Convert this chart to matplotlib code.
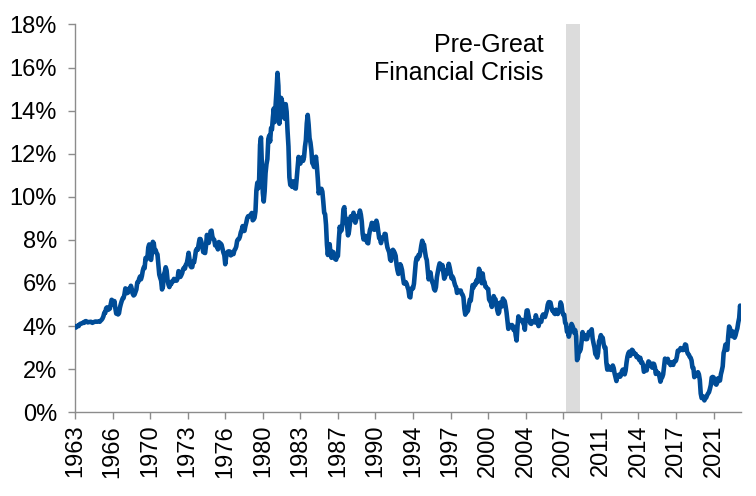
import matplotlib
matplotlib.use("Agg")
import matplotlib.pyplot as plt
import numpy as np
import pandas as pd

plt.rcParams['font.family'] = ['Liberation Sans', 'DejaVu Sans']

# 10-year yield, monthly, Apr 1963 - Nov 2023 (%)
y1960s = [3.97, 3.93, 3.99, 4.02, 4.00, 4.08, 4.11, 4.12, 4.13,
          4.17, 4.15, 4.22, 4.23, 4.20, 4.17, 4.19, 4.19, 4.20, 4.19, 4.15, 4.18,
          4.19, 4.21, 4.21, 4.20, 4.21, 4.21, 4.20, 4.25, 4.29, 4.35, 4.45, 4.62,
          4.61, 4.83, 4.87, 4.75, 4.78, 4.81, 5.02, 5.22, 5.18, 5.01, 5.16, 4.84,
          4.58, 4.63, 4.54, 4.59, 4.85, 5.02, 5.16, 5.28, 5.30, 5.48, 5.75, 5.70,
          5.53, 5.56, 5.74, 5.64, 5.87, 5.72, 5.50, 5.42, 5.46, 5.58, 5.70, 6.03,
          6.04, 6.19, 6.30, 6.17, 6.32, 6.57, 6.72, 6.69, 7.16, 7.10, 7.14, 7.65]
y1970s = [7.79, 7.24, 7.07, 7.39, 7.91, 7.84, 7.46, 7.53, 7.39, 7.33, 6.84, 6.39,
          6.24, 6.11, 5.70, 5.83, 6.39, 6.52, 6.73, 6.58, 6.14, 5.93, 5.81, 5.93,
          5.95, 6.08, 6.07, 6.19, 6.13, 6.11, 6.11, 6.21, 6.55, 6.48, 6.28, 6.36,
          6.46, 6.64, 6.71, 6.67, 6.85, 6.90, 7.13, 7.40, 7.09, 6.79, 6.73, 6.74,
          6.99, 6.96, 7.21, 7.51, 7.58, 7.54, 7.81, 8.04, 8.04, 7.90, 7.68, 7.43,
          7.50, 7.39, 7.73, 8.23, 8.06, 7.86, 8.06, 8.40, 8.43, 8.14, 8.05, 8.00,
          7.74, 7.79, 7.73, 7.56, 7.90, 7.86, 7.83, 7.77, 7.59, 7.41, 7.29, 6.87,
          7.21, 7.39, 7.46, 7.37, 7.46, 7.28, 7.33, 7.40, 7.34, 7.52, 7.58, 7.69,
          7.96, 8.03, 8.04, 8.15, 8.35, 8.46, 8.64, 8.41, 8.42, 8.64, 8.81, 9.01,
          9.10, 9.10, 9.12, 9.18, 9.25, 8.91, 8.95, 9.03, 9.33, 10.30, 10.65, 10.39]
y1980s = [10.80, 12.41, 12.75, 11.47, 10.18, 9.78, 10.25, 11.10, 11.51, 11.75, 12.68, 12.84,
          12.57, 13.19, 13.12, 13.68, 14.10, 13.47, 14.28, 14.94, 15.75, 15.15, 13.39, 13.72,
          14.59, 14.43, 13.86, 13.87, 13.62, 14.30, 13.95, 13.06, 12.34, 10.91, 10.55, 10.54,
          10.46, 10.72, 10.51, 10.40, 10.38, 10.85, 11.38, 11.85, 11.65, 11.54, 11.69, 11.83,
          11.67, 11.84, 12.32, 12.63, 13.41, 13.80, 13.36, 12.72, 12.52, 12.16, 11.57, 11.50,
          11.38, 11.51, 11.86, 11.43, 10.85, 10.16, 10.31, 10.33, 10.37, 10.24, 9.78, 9.26,
          9.19, 8.70, 7.78, 7.30, 7.71, 7.80, 7.30, 7.17, 7.45, 7.43, 7.25, 7.11,
          7.08, 7.25, 7.25, 8.02, 8.61, 8.40, 8.45, 8.76, 9.42, 9.52, 8.86, 8.99,
          8.67, 8.21, 8.37, 8.72, 9.09, 8.92, 9.06, 9.26, 8.98, 8.80, 8.96, 9.11,
          9.09, 9.17, 9.36, 9.18, 8.86, 8.28, 8.02, 8.11, 8.19, 8.01, 7.87, 7.84]
y1990s = [8.21, 8.47, 8.59, 8.79, 8.76, 8.48, 8.47, 8.75, 8.89, 8.72, 8.39, 8.08,
          8.09, 7.85, 8.11, 8.04, 8.07, 8.28, 8.27, 7.90, 7.65, 7.53, 7.42, 7.09,
          7.03, 7.34, 7.54, 7.48, 7.39, 7.26, 6.84, 6.59, 6.42, 6.59, 6.87, 6.77,
          6.60, 6.26, 5.98, 5.97, 6.04, 5.96, 5.81, 5.68, 5.36, 5.33, 5.72, 5.77,
          5.75, 5.97, 6.48, 6.97, 7.18, 7.10, 7.30, 7.24, 7.46, 7.74, 7.96, 7.81,
          7.78, 7.47, 7.20, 7.06, 6.63, 6.17, 6.28, 6.49, 6.20, 6.04, 5.93, 5.71,
          5.65, 5.81, 6.27, 6.51, 6.74, 6.91, 6.87, 6.64, 6.83, 6.53, 6.20, 6.30,
          6.58, 6.42, 6.69, 6.89, 6.71, 6.49, 6.22, 6.30, 6.21, 6.03, 5.88, 5.81,
          5.54, 5.57, 5.65, 5.64, 5.65, 5.50, 5.46, 5.34, 4.81, 4.53, 4.83, 4.65,
          4.72, 5.00, 5.23, 5.18, 5.54, 5.90, 5.79, 5.94, 5.92, 6.11, 6.03, 6.28]
y2000s = [6.66, 6.52, 6.26, 5.99, 6.44, 6.10, 6.05, 5.83, 5.80, 5.74, 5.72, 5.24,
          5.16, 5.10, 4.89, 5.14, 5.39, 5.28, 5.24, 4.97, 4.73, 4.57, 4.65, 5.09,
          5.04, 4.91, 5.28, 5.21, 5.16, 4.93, 4.65, 4.26, 3.87, 3.94, 4.05, 4.03,
          4.05, 3.90, 3.81, 3.96, 3.57, 3.33, 3.98, 4.45, 4.27, 4.29, 4.30, 4.27,
          4.15, 4.08, 3.83, 4.35, 4.72, 4.73, 4.50, 4.28, 4.13, 4.10, 4.19, 4.23,
          4.22, 4.17, 4.50, 4.34, 4.14, 4.00, 4.18, 4.26, 4.20, 4.46, 4.54, 4.47,
          4.42, 4.57, 4.72, 4.99, 5.11, 5.11, 5.09, 4.88, 4.72, 4.73, 4.60, 4.56,
          4.76, 4.72, 4.56, 4.69, 4.75, 5.10, 5.00, 4.67, 4.52, 4.53, 4.15, 4.10,
          3.74, 3.74, 3.51, 3.68, 3.88, 4.10, 4.01, 3.89, 3.69, 3.81, 3.53, 2.42,
          2.52, 2.87, 2.82, 2.93, 3.29, 3.72, 3.56, 3.59, 3.40, 3.39, 3.40, 3.59]
y2010s = [3.73, 3.69, 3.73, 3.85, 3.42, 3.20, 3.01, 2.70, 2.65, 2.54, 2.76, 3.29,
          3.39, 3.58, 3.41, 3.46, 3.17, 3.00, 3.00, 2.30, 1.98, 2.15, 2.01, 1.98,
          1.97, 1.97, 2.17, 2.05, 1.80, 1.62, 1.45, 1.68, 1.72, 1.75, 1.65, 1.72,
          1.91, 1.98, 1.96, 1.76, 1.93, 2.30, 2.58, 2.74, 2.81, 2.62, 2.72, 2.90,
          2.86, 2.71, 2.72, 2.71, 2.56, 2.60, 2.54, 2.42, 2.53, 2.30, 2.33, 2.21,
          1.88, 1.98, 2.04, 1.94, 2.20, 2.36, 2.32, 2.17, 2.17, 2.07, 2.26, 2.24,
          2.09, 1.78, 1.89, 1.81, 1.81, 1.64, 1.42, 1.56, 1.63, 1.76, 2.14, 2.49,
          2.43, 2.42, 2.48, 2.30, 2.30, 2.19, 2.32, 2.21, 2.20, 2.36, 2.35, 2.40,
          2.58, 2.86, 2.84, 2.87, 2.98, 2.91, 2.89, 2.89, 3.00, 3.15, 3.12, 2.83,
          2.71, 2.68, 2.57, 2.53, 2.40, 2.07, 2.06, 1.63, 1.70, 1.71, 1.81, 1.86]
y2020s = [1.76, 1.50, 0.87, 0.66, 0.67, 0.73, 0.55, 0.65, 0.68, 0.79, 0.87, 0.93,
          1.08, 1.26, 1.61, 1.64, 1.62, 1.52, 1.32, 1.28, 1.37, 1.58, 1.56, 1.47,
          1.76, 1.93, 2.13, 2.75, 2.90, 3.14, 2.90, 2.90, 3.52, 3.98, 3.89, 3.62,
          3.53, 3.75, 3.66, 3.46, 3.57, 3.75, 3.90, 4.17, 4.38, 4.95, 4.37]

yields = y1960s + y1970s + y1980s + y1990s + y2000s + y2010s + y2020s
dates = pd.date_range("1963-04-01", periods=len(yields), freq="MS")

tick_labels = ["1963", "1966", "1970", "1973", "1976", "1980", "1983", "1987", "1990",
               "1994", "1997", "2000", "2004", "2007", "2011", "2014", "2017", "2021"]
tick_step = 41  # months between labels (category axis)

band_start = pd.Timestamp("2007-12-01")
band_end = pd.Timestamp("2009-03-01")

pos = np.arange(len(yields))
fig = plt.figure(figsize=(7.56, 4.96), dpi=100)
ax = fig.add_axes([0.0992, 0.1688, 0.881, 0.782])

b0 = dates.get_loc(band_start)
b1 = dates.get_loc(band_end)
ax.axvspan(b0, b1, color="#dcdcdc", lw=0, zorder=1)
ax.plot(pos, yields, color="#004c97", lw=3.3, zorder=3, solid_joinstyle="round")

ax.set_xlim(0, len(yields) - 1)
ax.set_ylim(0, 18)
ax.set_yticks(np.arange(0, 19, 2))
ax.set_yticklabels([f"{v}%" for v in range(0, 19, 2)])
ax.set_xticks(pos[::tick_step][:len(tick_labels)])
ax.set_xticklabels(tick_labels, rotation=90)

for s in ["top", "right"]:
    ax.spines[s].set_visible(False)
for s in ["left", "bottom"]:
    ax.spines[s].set_color("#8c8c8c")
    ax.spines[s].set_linewidth(1.0)
ax.tick_params(axis="both", colors="#8c8c8c", labelcolor="black", labelsize=17,
               length=5, width=1.0, direction="out")
ax.tick_params(axis="y", pad=8)
ax.tick_params(axis="x", pad=4)

ax.text(0.703, 0.978, "Pre-Great\nFinancial Crisis", transform=ax.transAxes,
        ha="right", va="top", fontsize=18, linespacing=1.2)

fig.savefig("out.png", dpi=100)
